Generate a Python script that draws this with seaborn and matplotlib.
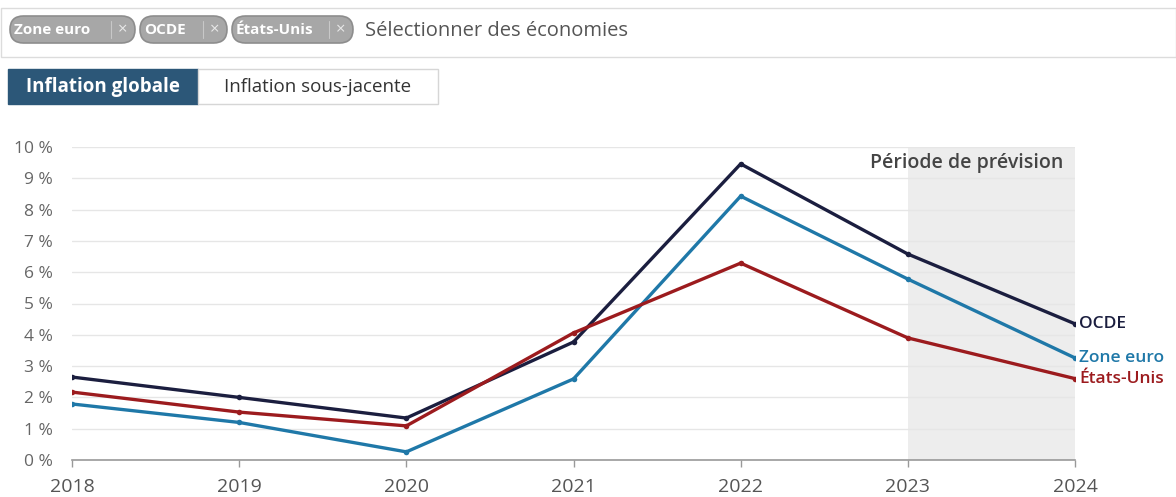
import matplotlib
matplotlib.use("Agg")
import matplotlib.pyplot as plt
from matplotlib.patches import FancyBboxPatch, Rectangle
import seaborn as sns
import pandas as pd

years = [2018, 2019, 2020, 2021, 2022, 2023, 2024]
ocde = [2.65, 2.0, 1.34, 3.77, 9.46, 6.58, 4.35]
zone_euro = [1.79, 1.2, 0.26, 2.59, 8.43, 5.78, 3.26]
etats_unis = [2.17, 1.53, 1.09, 4.06, 6.29, 3.9, 2.6]
series_names = ["OCDE", "Zone euro", "États-Unis"]
colors = {"OCDE": "#1b1e3f", "Zone euro": "#1f78a8", "États-Unis": "#9c1b1e"}
ytick_vals = list(range(0, 11))
ytick_labels = [f"{v} %" for v in ytick_vals]
chip_labels = ["Zone euro", "OCDE", "États-Unis"]
button_labels = ["Inflation globale", "Inflation sous-jacente"]

df = pd.DataFrame({
    "year": years * 3,
    "value": ocde + zone_euro + etats_unis,
    "serie": [s for s in series_names for _ in years],
})

sns.set_theme(style="white")
plt.rcParams['font.family'] = ['Open Sans', 'DejaVu Sans']

W, H = 1176, 497
fig = plt.figure(figsize=(W / 100, H / 100), dpi=100)

# --- overlay axes in pixel coordinates for the UI controls ---
ui = fig.add_axes([0, 0, 1, 1])
ui.set_xlim(0, W)
ui.set_ylim(H, 0)
ui.axis("off")

ui.add_patch(Rectangle((0.5, 8), W - 1, 49, facecolor="white", edgecolor="#dcdcdc", lw=1))
chip_spans = [(10, 135), (140, 227), (232, 353)]
for label, (x0, x1) in zip(chip_labels, chip_spans):
    ui.add_patch(FancyBboxPatch((x0, 16), (x1 - x0), 27,
                                boxstyle="round,pad=0,rounding_size=13.5",
                                facecolor="#a7a7a7", edgecolor="#8d8d8d", lw=1.2))
    ui.text(x0 + 4, 30.5, label, color="white", fontsize=11, fontweight="bold",
            va="center", ha="left")
    ui.plot([x1 - 24, x1 - 24], [21, 38], color="#c8c8c8", lw=0.8)
    ui.text(x1 - 12, 30.5, "×", color="#e8e8e8", fontsize=12, va="center", ha="center")
ui.text(365, 31, "Sélectionner des économies", color="#555555", fontsize=14.5,
        va="center", ha="left")

ui.add_patch(Rectangle((8, 69), 190, 35, facecolor="#2c5778", edgecolor="#2c5778", lw=1))
ui.text(103, 87, button_labels[0], color="white", fontsize=13.5, fontweight="bold",
        va="center", ha="center")
ui.add_patch(Rectangle((198, 69), 240, 35, facecolor="white", edgecolor="#d6d6d6", lw=1))
ui.text(318, 87, button_labels[1], color="#333333", fontsize=13.5,
        va="center", ha="center")

# --- chart ---
ax = fig.add_axes([72 / W, 1 - 460 / H, (1075 - 72) / W, (460 - 147) / H])
ax.axvspan(2023, 2024, ymin=0, ymax=1, color="#ededed", zorder=0, lw=0)

sns.lineplot(data=df, x="year", y="value", hue="serie", palette=colors,
             hue_order=series_names, linewidth=2.4, marker="o", markersize=4,
             markeredgewidth=0, legend=False, ax=ax, zorder=3)

ax.set_xlim(2018, 2024)
ax.set_ylim(0, 10)
ax.set_yticks(ytick_vals)
ax.set_yticklabels(ytick_labels)
ax.set_xticks(years)
ax.set_xticklabels([str(y) for y in years])
ax.set_xlabel("")
ax.set_ylabel("")
ax.grid(axis="y", color="#e6e6e6", lw=1)
ax.grid(axis="x", visible=False)
for side in ["top", "right", "left"]:
    ax.spines[side].set_visible(False)
ax.spines["bottom"].set_color("#999999")
ax.spines["bottom"].set_linewidth(1.2)
ax.tick_params(axis="y", length=0, labelsize=12.5, labelcolor="#666666", pad=14)
ax.tick_params(axis="x", length=5, width=1, color="#999999", direction="out",
               labelsize=14, labelcolor="#555555", bottom=True, pad=8)
ax.set_axisbelow(True)

ax.text(2023.93, 9.5, "Période de prévision", ha="right", va="center",
        fontsize=14, color="#444444", fontweight="semibold", zorder=5)

ends = {"OCDE": ocde[-1], "Zone euro": zone_euro[-1], "États-Unis": etats_unis[-1]}
for name in series_names:
    ax.annotate(name, xy=(2024, ends[name]), xytext=(3, 0),
                textcoords="offset points", ha="left", va="center", fontsize=12.5,
                fontweight="semibold", color=colors[name], annotation_clip=False)

fig.savefig("out.png", dpi=100)
